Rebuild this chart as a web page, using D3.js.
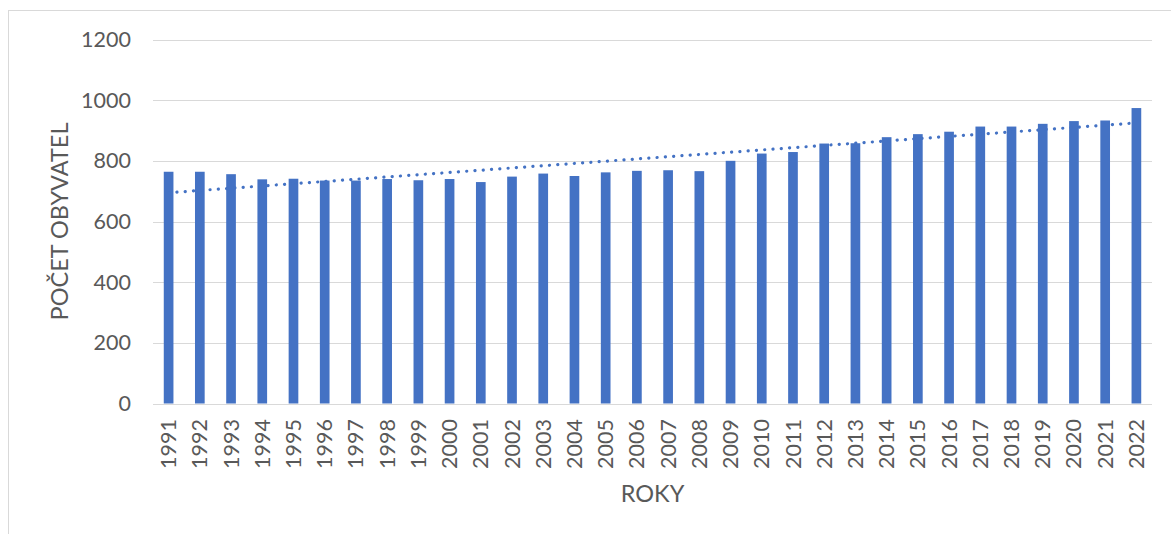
<!DOCTYPE html>
<html>
<head>
<meta charset="utf-8">
<script src="https://cdn.jsdelivr.net/npm/d3@7"></script>
<style>
  html, body { margin: 0; padding: 0; background: #fff; }
  svg { display: block; }
  text { font-family: Lato, "Open Sans", sans-serif; fill: #595959; }
</style>
</head>
<body>
<svg id="chart" width="1171" height="534"></svg>
<script>
const years = ["1991","1992","1993","1994","1995","1996","1997","1998","1999","2000",
  "2001","2002","2003","2004","2005","2006","2007","2008","2009","2010",
  "2011","2012","2013","2014","2015","2016","2017","2018","2019","2020","2021","2022"];
const population = [764,764,756,739,741,735,735,740,736,740,
  730,748,758,750,762,767,769,766,800,824,
  829,857,858,878,888,896,913,913,922,931,933,974];
const yTicks = [0,200,400,600,800,1000,1200];
const yTitle = "POČET OBYVATEL";
const xTitle = "ROKY";

(function () {
const svg = d3.select("#chart");
const W = 1171, H = 534;
const pLeft = 153, pRight = 1152, pTop = 39.5, pBottom = 403.5;
const blue = "#4472C4";

// outer frame (cropped at right and bottom)
svg.append("rect")
  .attr("x", 8.5).attr("y", 10.5)
  .attr("width", W + 20).attr("height", H + 20)
  .attr("fill", "none").attr("stroke", "#d9d9d9").attr("stroke-width", 1);

const x = d3.scaleBand().domain(years).range([pLeft, pRight]).paddingInner(0.69).paddingOuter(0.345);
const y = d3.scaleLinear().domain([0, 1200]).range([pBottom, pTop]);

// gridlines
svg.append("g").selectAll("line").data(yTicks.filter(d => d > 0)).join("line")
  .attr("x1", pLeft).attr("x2", pRight)
  .attr("y1", d => Math.round(y(d)) + 0.5).attr("y2", d => Math.round(y(d)) + 0.5)
  .attr("stroke", "#d9d9d9").attr("stroke-width", 1);

// y axis labels
const yAxis = d3.axisLeft(y).tickValues(yTicks).tickFormat(d3.format("d")).tickSize(0).tickPadding(0);
const gy = svg.append("g").attr("transform", `translate(131,0)`).call(yAxis);
gy.select(".domain").remove();
gy.selectAll("text").attr("font-size", 21.5).attr("fill", "#595959")
  .style("font-family", "Lato, 'Open Sans', sans-serif");

// bars
svg.append("g").selectAll("rect").data(population).join("rect")
  .attr("x", (d, i) => x(years[i]))
  .attr("width", x.bandwidth())
  .attr("y", d => y(d))
  .attr("height", d => y(0) - y(d))
  .attr("fill", blue);

// x axis line
svg.append("line")
  .attr("x1", pLeft).attr("x2", pRight)
  .attr("y1", Math.round(y(0)) + 0.5).attr("y2", Math.round(y(0)) + 0.5)
  .attr("stroke", "#d9d9d9").attr("stroke-width", 1);

// x axis labels (rotated)
const xAxis = d3.axisBottom(x).tickSize(0).tickPadding(0);
const gx = svg.append("g").attr("transform", `translate(0,419)`).call(xAxis);
gx.select(".domain").remove();
gx.selectAll("text")
  .attr("font-size", 21.5).attr("fill", "#595959")
  .style("font-family", "Lato, 'Open Sans', sans-serif")
  .attr("transform", "rotate(-90)")
  .attr("text-anchor", "end")
  .attr("x", 0).attr("y", 0).attr("dy", "0.35em");

// linear trendline (least squares over category index)
const n = population.length;
const idx = d3.range(1, n + 1);
const mx = d3.mean(idx), my = d3.mean(population);
const slope = d3.sum(idx, (t, i) => (t - mx) * (population[i] - my)) / d3.sum(idx, t => (t - mx) ** 2);
const icpt = my - slope * mx;
const cx = i => x(years[i]) + x.bandwidth() / 2;
svg.append("line")
  .attr("x1", cx(0)).attr("y1", y(icpt + slope * 1))
  .attr("x2", cx(n - 1)).attr("y2", y(icpt + slope * n))
  .attr("stroke", blue).attr("stroke-width", 3.2)
  .attr("stroke-linecap", "round").attr("stroke-dasharray", "0.1 8.2");

// axis titles
svg.append("text")
  .attr("x", (pLeft + pRight) / 2).attr("y", 502)
  .attr("text-anchor", "middle").attr("font-size", 23.5)
  .text(xTitle);
svg.append("text")
  .attr("transform", `translate(68,${(pTop + pBottom) / 2}) rotate(-90)`)
  .attr("text-anchor", "middle").attr("font-size", 23.5)
  .text(yTitle);
})();
</script>
</body>
</html>
